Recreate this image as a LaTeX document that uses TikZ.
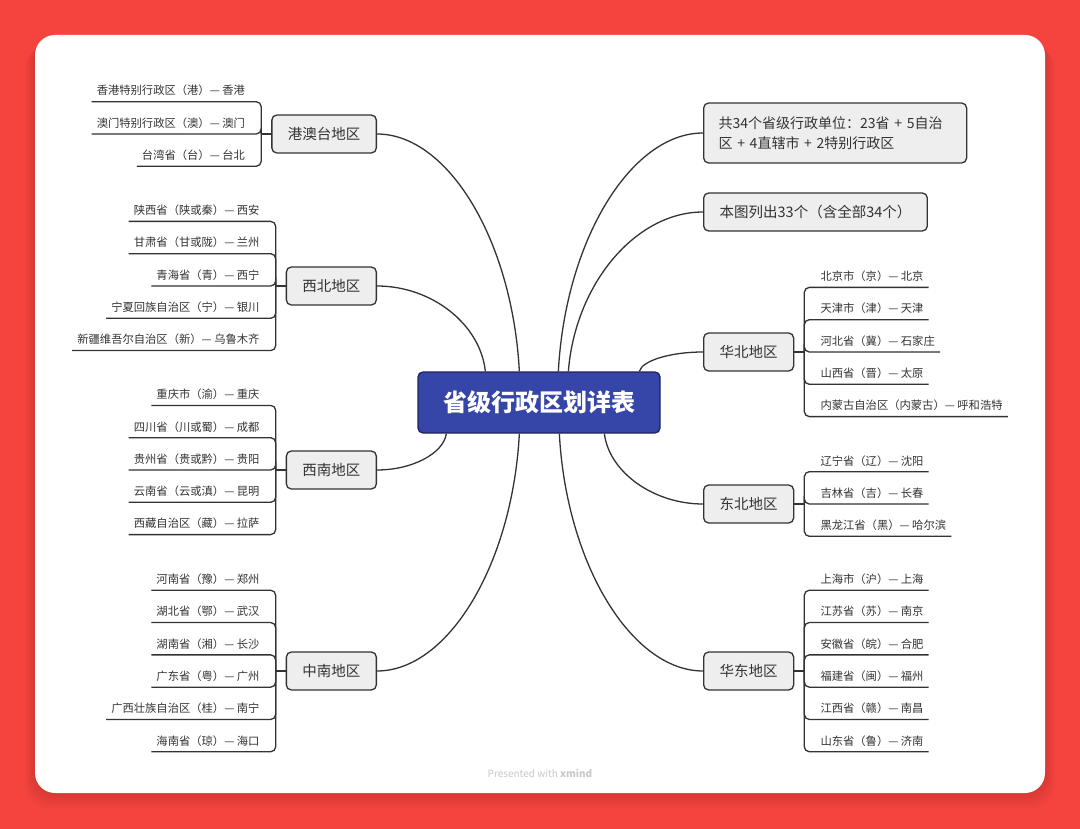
\documentclass[tikz,border=0pt]{standalone}
\usepackage{fontspec}
\setmainfont{Noto Sans CJK SC}
\usetikzlibrary{positioning, calc}
\definecolor{bgred}{RGB}{245, 67, 62}
\definecolor{rootblue}{RGB}{54, 70, 168}
\definecolor{rootborder}{RGB}{30, 36, 90}
\definecolor{boxgray}{RGB}{238, 238, 238}
\definecolor{darkgray}{RGB}{51, 51, 51}
\definecolor{footgray}{RGB}{200, 200, 200}

\begin{document}
\begin{tikzpicture}[
    x=1pt, y=-1pt,
    root/.style={rectangle, rounded corners=5pt, minimum width=242pt, minimum height=61pt, draw=rootborder, line width=1.3pt, fill=rootblue, text=white, font=\fontsize{24}{28}\selectfont\bfseries},
    region/.style={rectangle, rounded corners=5pt, minimum height=38pt, inner xsep=16pt, draw=darkgray, line width=1.3pt, fill=boxgray, text=darkgray, font=\fontsize{14.5}{18}\selectfont},
    note/.style={region, align=left, text width=233pt, inner xsep=15pt, minimum height=60pt, font=\fontsize{14}{20}\selectfont},
    leaf/.style={inner xsep=5pt, inner ysep=4pt, text height=10pt, text depth=2.5pt, text=darkgray, font=\fontsize{11.3}{14}\selectfont},
    link/.style={line width=1.3pt, draw=darkgray, rounded corners=5pt}
]
\useasboundingbox (0,0) rectangle (1080,829);

% Background and card
\fill [bgred] (0,0) rectangle (1080,829);
\foreach \s in {1,...,10} {
    \fill [black, opacity=0.012, rounded corners=24pt] ({35-\s},{35+\s}) rectangle ({1045+\s},{793+1.6*\s});
}
\fill [white, rounded corners=20pt] (35,35) rectangle (1045,793);

% Central topic
\node (root) [root] at (539,402.5) {省级行政区划详表};

% Left regions
\node (gangaotai) [region, anchor=east] at (377,134) {港澳台地区};
\node (xibei) [region, anchor=east] at (377,286) {西北地区};
\node (xinan) [region, anchor=east] at (377,470) {西南地区};
\node (zhongnan) [region, anchor=east] at (377,671) {中南地区};

% Right notes and regions
\node (total_note) [note, anchor=west] at (703,133) {共34个省级行政单位：23省 + 5自治\\区 + 4直辖市 + 2特别行政区};
\node (list_note) [region, anchor=west] at (703,212) {本图列出33个（含全部34个）};
\node (huabei) [region, anchor=west] at (703,352) {华北地区};
\node (dongbei) [region, anchor=west] at (703,504) {东北地区};
\node (huadong) [region, anchor=west] at (703,671) {华东地区};

% Curves from the central topic
\draw [link] ($(root.north west)+(102,0)$) .. controls +(-7,-131) and +(71,0) .. (gangaotai.east);
\draw [link] ($(root.north west)+(68,0)$) .. controls +(-5,-47) and +(55,0) .. (xibei.east);
\draw [link] ($(root.south west)+(29,0)$) .. controls +(-3,20) and +(35,0) .. (xinan.east);
\draw [link] ($(root.south west)+(102,0)$) .. controls +(-7,131) and +(71,0) .. (zhongnan.east);
\draw [link] ($(root.north west)+(141,0)$) .. controls +(7,-131) and +(-72,0) .. (total_note.west);
\draw [link] ($(root.north west)+(151,0)$) .. controls +(7,-88) and +(-67,0) .. (list_note.west);
\draw [link] ($(root.north west)+(222,0)$) .. controls +(3,-11) and +(-32,0) .. (huabei.west);
\draw [link] ($(root.south west)+(187,0)$) .. controls +(5,39) and +(-49,0) .. (dongbei.west);
\draw [link] ($(root.south west)+(142,0)$) .. controls +(7,131) and +(-71,0) .. (huadong.west);

% Brackets
\foreach \reg in {gangaotai, xibei, xinan, zhongnan} {
    \coordinate (\reg_j) at ($(\reg.west)+(-10,0)$);
    \draw [link] (\reg.west) -- (\reg_j);
}
\foreach \reg in {huabei, dongbei, huadong} {
    \coordinate (\reg_j) at ($(\reg.east)+(10,0)$);
    \draw [link] (\reg.east) -- (\reg_j);
}

% Left leaves
\foreach \txt [count=\i] in {香港特别行政区（港）— 香港, 澳门特别行政区（澳）— 澳门, 台湾省（台）— 台北} {
    \node (gangaotai_\i) [leaf, anchor=south east] at ($(gangaotai_j)+(-11,{32.3*(\i-2)})$) {\txt};
    \draw [link] (gangaotai_j) |- (gangaotai_\i.south west);
}
\foreach \txt [count=\i] in {陕西省（陕或秦）— 西安, 甘肃省（甘或陇）— 兰州, 青海省（青）— 西宁, 宁夏回族自治区（宁）— 银川, 新疆维吾尔自治区（新）— 乌鲁木齐} {
    \node (xibei_\i) [leaf, anchor=south east] at ($(xibei_j)+(-11,{32.3*(\i-3)})$) {\txt};
    \draw [link] (xibei_j) |- (xibei_\i.south west);
}
\foreach \txt [count=\i] in {重庆市（渝）— 重庆, 四川省（川或蜀）— 成都, 贵州省（贵或黔）— 贵阳, 云南省（云或滇）— 昆明, 西藏自治区（藏）— 拉萨} {
    \node (xinan_\i) [leaf, anchor=south east] at ($(xinan_j)+(-11,{32.3*(\i-3)})$) {\txt};
    \draw [link] (xinan_j) |- (xinan_\i.south west);
}
\foreach \txt [count=\i] in {河南省（豫）— 郑州, 湖北省（鄂）— 武汉, 湖南省（湘）— 长沙, 广东省（粤）— 广州, 广西壮族自治区（桂）— 南宁, 海南省（琼）— 海口} {
    \node (zhongnan_\i) [leaf, anchor=south east] at ($(zhongnan_j)+(-11,{32.3*(\i-3.5)})$) {\txt};
    \draw [link] (zhongnan_j) |- (zhongnan_\i.south west);
}

% Right leaves
\foreach \txt [count=\i] in {北京市（京）— 北京, 天津市（津）— 天津, 河北省（冀）— 石家庄, 山西省（晋）— 太原, 内蒙古自治区（内蒙古）— 呼和浩特} {
    \node (huabei_\i) [leaf, anchor=south west] at ($(huabei_j)+(11,{32.3*(\i-3)})$) {\txt};
    \draw [link] (huabei_j) |- (huabei_\i.south east);
}
\foreach \txt [count=\i] in {辽宁省（辽）— 沈阳, 吉林省（吉）— 长春, 黑龙江省（黑）— 哈尔滨} {
    \node (dongbei_\i) [leaf, anchor=south west] at ($(dongbei_j)+(11,{32.3*(\i-2)})$) {\txt};
    \draw [link] (dongbei_j) |- (dongbei_\i.south east);
}
\foreach \txt [count=\i] in {上海市（沪）— 上海, 江苏省（苏）— 南京, 安徽省（皖）— 合肥, 福建省（闽）— 福州, 江西省（赣）— 南昌, 山东省（鲁）— 济南} {
    \node (huadong_\i) [leaf, anchor=south west] at ($(huadong_j)+(11,{32.3*(\i-3.5)})$) {\txt};
    \draw [link] (huadong_j) |- (huadong_\i.south east);
}

\node (footer) [font=\fontsize{10}{12}\selectfont, text=footgray] at (540,773) {Presented with \textbf{xmind}};

\end{tikzpicture}
\end{document}
